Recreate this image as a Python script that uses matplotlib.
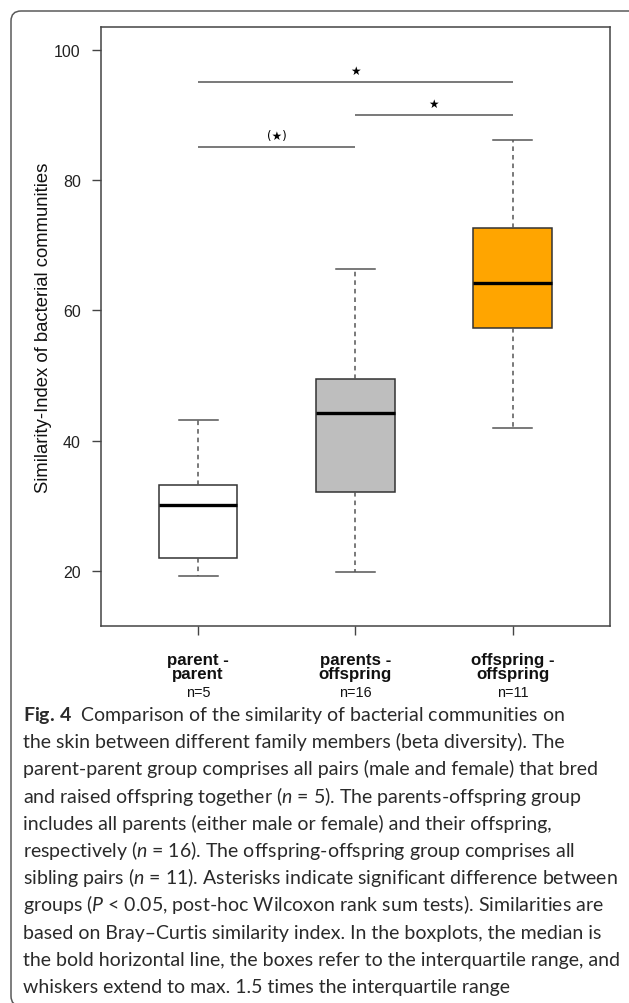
import matplotlib
matplotlib.use("Agg")
import matplotlib.pyplot as plt
from matplotlib.patches import FancyBboxPatch
from matplotlib.transforms import IdentityTransform, blended_transform_factory

# ---------------- data ----------------
group_top = ["parent -", "parents -", "offspring -"]
group_bottom = ["parent", "offspring", "offspring"]
group_n = [5, 16, 11]
whislo = [19.3, 19.8, 41.9]
q1 = [22.0, 32.2, 57.3]
med = [30.2, 44.3, 64.2]
q3 = [33.2, 49.4, 72.6]
whishi = [43.2, 66.3, 86.2]
box_colors = ["#FFFFFF", "#BEBEBE", "#FFA500"]
yticks = [20, 40, 60, 80, 100]

# significance brackets: (from group, to group, height, label)
brk_from = [1, 2, 1]
brk_to = [3, 3, 2]
brk_y = [95, 90, 85]
brk_lab = ["\u2605", "\u2605", "(\u2605)"]

caption_lines = [
    r"$\mathbf{Fig.\,4}$  Comparison of the similarity of bacterial communities on",
    "the skin between different family members (beta diversity). The",
    "parent-parent group comprises all pairs (male and female) that bred",
    r"and raised offspring together ($\mathit{n}$ = 5). The parents-offspring group",
    "includes all parents (either male or female) and their offspring,",
    r"respectively ($\mathit{n}$ = 16). The offspring-offspring group comprises all",
    r"sibling pairs ($\mathit{n}$ = 11). Asterisks indicate significant difference between",
    r"groups ($\mathit{P}$ < 0.05, post-hoc Wilcoxon rank sum tests). Similarities are",
    "based on Bray\u2013Curtis similarity index. In the boxplots, the median is",
    "the bold horizontal line, the boxes refer to the interquartile range, and",
    "whiskers extend to max. 1.5 times the interquartile range",
]

# ---------------- style ----------------
plt.rcParams["font.family"] = ["Liberation Sans", "DejaVu Sans"]
plt.rcParams["mathtext.fontset"] = "custom"
plt.rcParams["mathtext.rm"] = "Lato"
plt.rcParams["mathtext.it"] = "Lato:italic"
plt.rcParams["mathtext.bf"] = "Lato:bold"

W, H = 629, 1004
fig = plt.figure(figsize=(W / 100, H / 100), dpi=100)
fig.patch.set_facecolor("white")

# outer rounded frame
frame = FancyBboxPatch((11, H - 1007), 640 - 11, 1007 - 12,
                       boxstyle="round,pad=0,rounding_size=10",
                       transform=IdentityTransform(), fill=False,
                       ec="#5a5a5a", lw=1.1)
fig.add_artist(frame)

L, R, T, B = 100.7, 610, 28.3, 627
ax = fig.add_axes([L / W, 1 - B / H, (R - L) / W, (B - T) / H])

stats = []
for i in range(3):
    stats.append(dict(whislo=whislo[i], q1=q1[i], med=med[i], q3=q3[i],
                      whishi=whishi[i], fliers=[], label=group_top[i]))

edge = "#333333"
bp = ax.bxp(stats, positions=[1, 2, 3], widths=0.5, capwidths=0.25,
            patch_artist=True, showfliers=False,
            boxprops=dict(edgecolor=edge, linewidth=1.1),
            whiskerprops=dict(color="#555555", linewidth=1.1,
                              linestyle=(0, (3.0, 2.6))),
            capprops=dict(color="#555555", linewidth=1.1),
            medianprops=dict(color="black", linewidth=2.4, solid_capstyle="butt"))
for patch, c in zip(bp["boxes"], box_colors):
    patch.set_facecolor(c)

# brackets
for a, b, y, lab in zip(brk_from, brk_to, brk_y, brk_lab):
    ax.plot([a, b], [y, y], color="#555555", lw=1.1, solid_capstyle="butt")
    ax.text((a + b) / 2, y + 1.8, lab, ha="center", va="center",
            fontsize=8.5, family="DejaVu Sans", color="black")

ax.set_xlim(0.38, 3.62)
ax.set_ylim(11.56, 103.44)
ax.set_yticks(yticks)
ax.set_yticklabels([str(v) for v in yticks])
ax.set_xticks([1, 2, 3])
ax.set_xticklabels([""] * 3)
ax.tick_params(axis="both", direction="out", length=6.5, width=1.0,
               color="#444444", labelsize=11.5, labelcolor="#222222", pad=7.9)
for s in ax.spines.values():
    s.set_color("#444444")
    s.set_linewidth(1.1)

ax.set_ylabel("Similarity-Index of bacterial communities", fontsize=13.3,
              color="#111111")
ax.yaxis.set_label_coords(-(L - 44) / (R - L), 0.5)
ax.yaxis.label.set_va("center")

# x labels
tr = blended_transform_factory(ax.transData, fig.transFigure)
for i in range(3):
    ax.text(i + 1, 1 - 665 / H, group_top[i], transform=tr, ha="center",
            va="baseline", fontsize=12.2, fontweight="bold", color="#111111")
    ax.text(i + 1, 1 - 679 / H, group_bottom[i], transform=tr, ha="center",
            va="baseline", fontsize=12.2, fontweight="bold", color="#111111")
    ax.text(i + 1, 1 - 697.3 / H, "n=%d" % group_n[i], transform=tr,
            ha="center", va="baseline", fontsize=10.4, color="#111111")

# caption: fit font size so the longest plain line spans the measured width
renderer = fig.canvas.get_renderer()
probe = fig.text(0, 0, caption_lines[9], fontsize=12, family="Lato")
w = probe.get_window_extent(renderer).width
probe.remove()
cap_fs = 12 * 595 / w

x0 = 22.7 / W
base0 = 721.0
step = 27.2
for k, line in enumerate(caption_lines):
    fig.text(x0, 1 - (base0 + k * step) / H, line, fontsize=cap_fs,
             family="Lato", color="#2a2a2a", va="baseline", ha="left")

fig.savefig("out.png", dpi=100)
